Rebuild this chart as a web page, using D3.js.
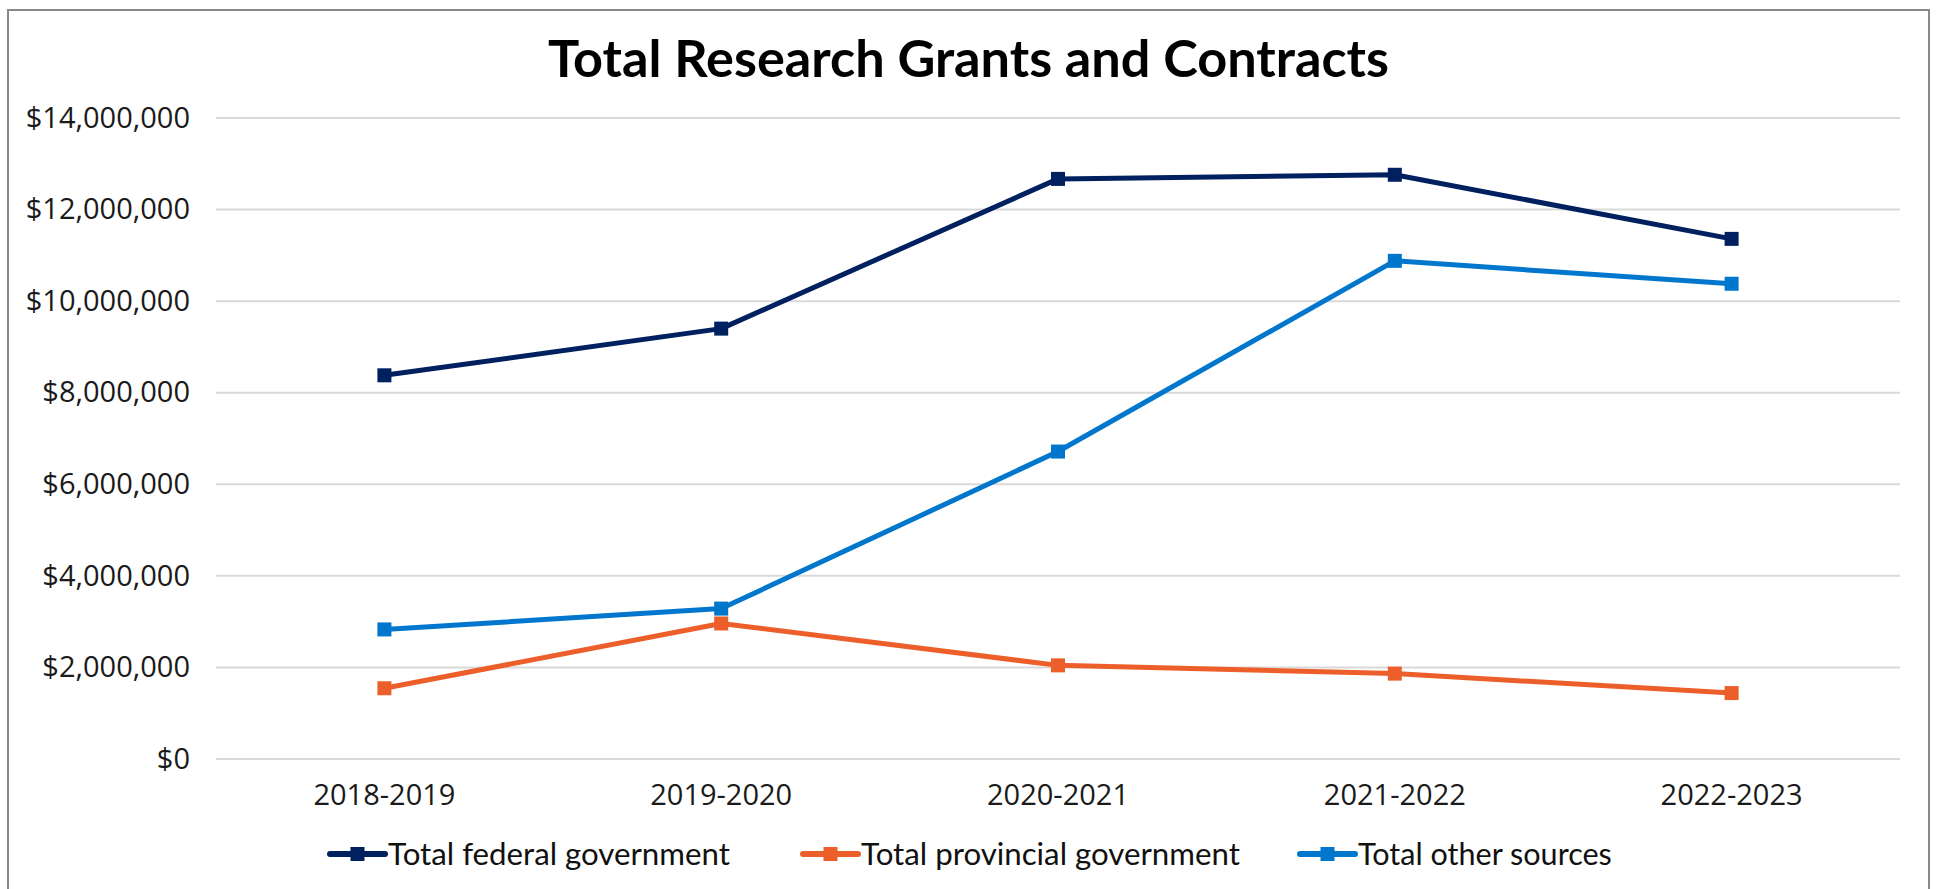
<!DOCTYPE html>
<html>
<head>
<meta charset="utf-8">
<script src="https://cdn.jsdelivr.net/npm/d3@7"></script>
<style>
  html, body { margin: 0; padding: 0; background: #ffffff; }
  svg { display: block; }
</style>
</head>
<body>
<svg id="chart" width="1942" height="889"></svg>
<script>
const title = "Total Research Grants and Contracts";
const categories = ["2018-2019", "2019-2020", "2020-2021", "2021-2022", "2022-2023"];
const seriesNames = ["Total federal government", "Total provincial government", "Total other sources"];
const federal = [8380000, 9400000, 12670000, 12760000, 11360000];
const provincial = [1545000, 2960000, 2045000, 1865000, 1440000];
const other = [2830000, 3285000, 6715000, 10880000, 10380000];
const seriesColors = ["#002060", "#EC5F2B", "#0077CC"];
const yTicks = [0, 2000000, 4000000, 6000000, 8000000, 10000000, 12000000, 14000000];

const seriesValues = [federal, provincial, other];
const series = seriesNames.map((name, i) => ({
  name, color: seriesColors[i],
  values: categories.map((c, j) => ({ cat: c, value: seriesValues[i][j] }))
}));

const svg = d3.select("#chart");

// outer border
svg.append("rect")
  .attr("x", 8).attr("y", 10).attr("width", 1921).attr("height", 900)
  .attr("fill", "#ffffff").attr("stroke", "#898989").attr("stroke-width", 2);

const plot = { left: 216, right: 1900, top: 118, bottom: 759 };

const x = d3.scaleBand().domain(categories).range([plot.left, plot.right]).padding(0);
const y = d3.scaleLinear().domain([0, 14000000]).range([plot.bottom, plot.top]);

const axisFont = "'Open Sans', 'Noto Sans', sans-serif";
const fmt = v => "$" + d3.format(",")(v);

// gridlines
svg.append("g")
  .selectAll("line").data(yTicks).join("line")
  .attr("x1", plot.left).attr("x2", plot.right)
  .attr("y1", d => y(d)).attr("y2", d => y(d))
  .attr("stroke", "#d9d9d9").attr("stroke-width", 2);

// y axis
const yAxis = svg.append("g")
  .attr("transform", `translate(${plot.left - 26},0)`)
  .call(d3.axisLeft(y).tickValues(yTicks).tickFormat(fmt).tickSize(0).tickPadding(0));
yAxis.select(".domain").remove();
yAxis.selectAll("text")
  .attr("font-family", axisFont).attr("font-size", 29).attr("fill", "#1a1a1a");

// x axis
const xAxis = svg.append("g")
  .attr("transform", `translate(0,${plot.bottom})`)
  .call(d3.axisBottom(x).tickSize(0).tickPadding(25));
xAxis.select(".domain").remove();
xAxis.selectAll("text")
  .attr("font-family", axisFont).attr("font-size", 29).attr("fill", "#1a1a1a");

// lines
const line = d3.line()
  .x(d => x(d.cat) + x.bandwidth() / 2)
  .y(d => y(d.value));

const gSeries = svg.append("g");
series.forEach(s => {
  gSeries.append("path")
    .datum(s.values)
    .attr("d", line)
    .attr("fill", "none")
    .attr("stroke", s.color)
    .attr("stroke-width", 5)
    .attr("stroke-linejoin", "round")
    .attr("stroke-linecap", "round");
});
const mk = 14;
series.forEach(s => {
  gSeries.append("g").selectAll("rect").data(s.values).join("rect")
    .attr("x", d => x(d.cat) + x.bandwidth() / 2 - mk / 2)
    .attr("y", d => y(d.value) - mk / 2)
    .attr("width", mk).attr("height", mk)
    .attr("fill", s.color);
});

// title
const t = svg.append("text")
  .attr("x", 968.5).attr("y", 77)
  .attr("text-anchor", "middle")
  .attr("font-family", "Lato, 'Open Sans', sans-serif")
  .attr("font-weight", 700)
  .attr("font-size", 46)
  .attr("fill", "#000000")
  .text(title);
{
  const w = t.node().getComputedTextLength();
  t.attr("font-size", 46 * 841 / w);
}

// legend
const legendFont = "Lato, 'Open Sans', sans-serif";
const legendTargets = [342, 379, 254];
const legend = svg.append("g");
const items = series.map((s, i) => {
  const g = legend.append("g");
  g.append("line").attr("x1", 0).attr("x2", 55).attr("y1", 0).attr("y2", 0)
    .attr("stroke", s.color).attr("stroke-width", 6).attr("stroke-linecap", "round");
  g.append("rect").attr("x", 27.5 - 7).attr("y", -7).attr("width", 14).attr("height", 14)
    .attr("fill", s.color);
  const tx = g.append("text").attr("x", 58).attr("y", 11)
    .attr("font-family", legendFont).attr("font-size", 30).attr("fill", "#111111")
    .text(s.name);
  const w = tx.node().getComputedTextLength();
  tx.attr("font-size", 30 * legendTargets[i] / w);
  return g;
});
const starts = [330, 803, 1300];
items.forEach((g, i) => g.attr("transform", `translate(${starts[i]},854)`));
</script>
</body>
</html>
